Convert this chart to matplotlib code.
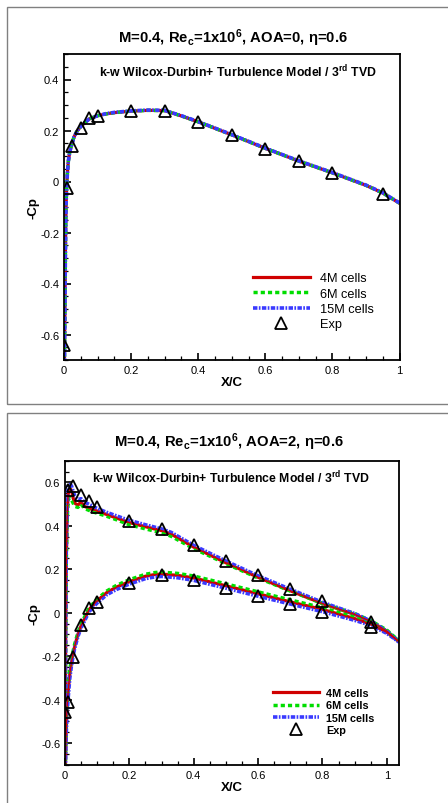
import matplotlib
matplotlib.use("Agg")
import matplotlib.pyplot as plt
from matplotlib.ticker import MultipleLocator, FuncFormatter
from matplotlib.patches import Rectangle

plt.rcParams['font.family'] = ['Liberation Sans', 'DejaVu Sans']
plt.rcParams['lines.scale_dashes'] = False
plt.rcParams['mathtext.fontset'] = 'custom'
plt.rcParams['mathtext.rm'] = 'Liberation Sans'
plt.rcParams['mathtext.bf'] = 'Liberation Sans:bold'
plt.rcParams['mathtext.it'] = 'Liberation Sans:italic'

# ---------------- data: AOA = 0 ----------------
x_cfd0 = [0.0, 0.001, 0.002, 0.003, 0.004, 0.005, 0.006, 0.008, 0.010, 0.013, 0.017,
          0.022, 0.03, 0.04, 0.05, 0.06, 0.075, 0.1, 0.125, 0.15, 0.2, 0.25, 0.3,
          0.35, 0.4, 0.5, 0.6, 0.7, 0.8, 0.9, 0.95, 1.0]
cp0_4M = [-1.0, -0.75, -0.6, -0.45, -0.3, -0.18, -0.1, -0.02, 0.03, 0.08, 0.115,
          0.14, 0.175, 0.2, 0.215, 0.228, 0.245, 0.258, 0.265, 0.27, 0.276, 0.279, 0.278,
          0.257, 0.234, 0.183, 0.130, 0.080, 0.034, -0.015, -0.045, -0.085]
cp0_6M = [-1.0, -0.75, -0.6, -0.45, -0.3, -0.18, -0.1, -0.02, 0.03, 0.08, 0.116,
          0.141, 0.176, 0.201, 0.216, 0.229, 0.246, 0.258, 0.265, 0.27, 0.276, 0.279, 0.278,
          0.257, 0.234, 0.183, 0.130, 0.080, 0.034, -0.015, -0.045, -0.085]
cp0_15M = [-1.0, -0.76, -0.61, -0.46, -0.31, -0.19, -0.1, -0.02, 0.03, 0.08, 0.115,
           0.14, 0.175, 0.2, 0.215, 0.228, 0.245, 0.258, 0.266, 0.271, 0.277, 0.28, 0.279,
           0.258, 0.235, 0.184, 0.131, 0.081, 0.035, -0.014, -0.044, -0.084]
x_exp0 = [0.0, 0.01, 0.025, 0.05, 0.075, 0.1, 0.2, 0.3, 0.4, 0.5, 0.6, 0.7, 0.8, 0.95]
cp_exp0 = [-0.64, -0.025, 0.14, 0.21, 0.25, 0.258, 0.276, 0.275, 0.233, 0.181,
           0.128, 0.079, 0.034, -0.05]

# ---------------- data: AOA = 2 ----------------
x_up2 = [0.0, 0.001, 0.002, 0.004, 0.007, 0.01, 0.015, 0.02, 0.025, 0.03, 0.04, 0.05,
         0.06, 0.08, 0.1, 0.13, 0.16, 0.2, 0.25, 0.3, 0.33, 0.4, 0.5, 0.6, 0.7, 0.8,
         0.9, 0.95, 1.0, 1.038]
cp_up2_4M = [-0.9, -0.6, -0.15, 0.25, 0.46, 0.55, 0.57, 0.565, 0.53, 0.505, 0.495,
             0.51, 0.49, 0.478, 0.468, 0.452, 0.436, 0.415, 0.396, 0.378, 0.362, 0.302,
             0.23, 0.163, 0.101, 0.042, -0.008, -0.04, -0.085, -0.133]
cp_up2_6M = [-0.9, -0.6, -0.15, 0.24, 0.44, 0.52, 0.53, 0.52, 0.505, 0.49, 0.485,
             0.5, 0.48, 0.468, 0.458, 0.444, 0.428, 0.405, 0.386, 0.368, 0.352, 0.295,
             0.226, 0.16, 0.1, 0.043, -0.004, -0.036, -0.08, -0.13]
cp_up2_15M = [-0.9, -0.55, -0.1, 0.3, 0.5, 0.585, 0.59, 0.585, 0.56, 0.54, 0.52,
              0.525, 0.51, 0.495, 0.48, 0.462, 0.446, 0.425, 0.405, 0.386, 0.37, 0.31,
              0.238, 0.17, 0.108, 0.048, -0.004, -0.038, -0.085, -0.135]

x_lo2 = [0.0, 0.001, 0.002, 0.004, 0.007, 0.01, 0.015, 0.02, 0.025, 0.03, 0.04, 0.05,
         0.06, 0.075, 0.1, 0.13, 0.16, 0.2, 0.25, 0.28, 0.3, 0.35, 0.4, 0.5, 0.6, 0.7,
         0.8, 0.9, 0.95, 1.0, 1.038]
cp_lo2_4M = [-0.9, -0.75, -0.64, -0.52, -0.42, -0.36, -0.28, -0.23, -0.19, -0.155,
             -0.1, -0.06, -0.03, 0.015, 0.055, 0.093, 0.118, 0.143, 0.168, 0.176, 0.178,
             0.172, 0.16, 0.124, 0.087, 0.05, 0.015, -0.027, -0.052, -0.09, -0.133]
cp_lo2_6M = [-0.9, -0.74, -0.62, -0.5, -0.4, -0.34, -0.26, -0.215, -0.178, -0.145,
             -0.092, -0.052, -0.022, 0.022, 0.063, 0.1, 0.126, 0.152, 0.177, 0.185, 0.187,
             0.181, 0.169, 0.133, 0.096, 0.059, 0.023, -0.02, -0.046, -0.086, -0.13]
cp_lo2_15M = [-0.9, -0.76, -0.66, -0.55, -0.45, -0.39, -0.3, -0.245, -0.2, -0.165,
              -0.11, -0.07, -0.04, 0.005, 0.045, 0.083, 0.107, 0.132, 0.157, 0.165, 0.167,
              0.161, 0.149, 0.113, 0.076, 0.04, 0.005, -0.035, -0.058, -0.095, -0.135]

x_exp2_up = [0.008, 0.025, 0.05, 0.075, 0.1, 0.2, 0.3, 0.4, 0.5, 0.6, 0.7, 0.8, 0.95]
cp_exp2_up = [0.566, 0.582, 0.543, 0.515, 0.485, 0.422, 0.384, 0.313, 0.24, 0.174,
              0.109, 0.053, -0.043]
x_exp2_lo = [0.0, 0.008, 0.025, 0.05, 0.075, 0.1, 0.2, 0.3, 0.4, 0.5, 0.6, 0.7, 0.8, 0.95]
cp_exp2_lo = [-0.459, -0.413, -0.202, -0.058, 0.02, 0.049, 0.138, 0.173, 0.15, 0.115,
              0.077, 0.041, 0.003, -0.064]

labels = ['4M cells', '6M cells', '15M cells', 'Exp']

# ---------------- styles ----------------
W, H = 448, 804
fig = plt.figure(figsize=(W / 100, H / 100), dpi=100)

red = dict(color='#d00000', lw=2.3, ls='-')
green = dict(color='#00dd00', lw=2.5, ls=(0, (3.0, 2.2)))
blue = dict(color='#3a3aff', lw=2.6, ls=(0, (3.2, 1.0, 1.2, 1.0)))
expst = dict(ls='none', marker='^', ms=8.8, mfc='none', mec='black', mew=1.3)


def fmt(v, pos):
    v = round(v, 6)
    if v == 0:
        return '0'
    return ('%g' % v)


def style_axes(ax, xmax, ymin, ymax):
    ax.set_xlim(0, xmax)
    ax.set_ylim(ymin, ymax)
    ax.xaxis.set_major_locator(MultipleLocator(0.2))
    ax.xaxis.set_minor_locator(MultipleLocator(0.05))
    ax.yaxis.set_major_locator(MultipleLocator(0.2))
    ax.yaxis.set_minor_locator(MultipleLocator(0.05))
    ax.xaxis.set_major_formatter(FuncFormatter(fmt))
    ax.yaxis.set_major_formatter(FuncFormatter(fmt))
    ax.tick_params(which='major', direction='in', length=5, width=1.2,
                   labelsize=8, pad=3.5, top=False, right=False)
    ax.tick_params(which='minor', direction='in', length=2.8, width=0.9,
                   top=False, right=False)
    for s in ax.spines.values():
        s.set_linewidth(1.3)


def px(x, y):
    return (x / W, 1 - y / H)


subtitle = r'k-w Wilcox-Durbin+ Turbulence Model / 3$^{\mathbf{rd}}$ TVD'

# panel frames
fig.add_artist(Rectangle(px(7, 404.5), (470 - 7) / W, (404.5 - 8) / H,
                         transform=fig.transFigure, fill=False, ec='#808080', lw=1.0))
fig.add_artist(Rectangle(px(7, 830), (470 - 7) / W, (830 - 414) / H,
                         transform=fig.transFigure, fill=False, ec='#808080', lw=1.0))

# ---------------- top panel ----------------
ax1 = fig.add_axes([64 / W, 1 - 361 / H, (399.5 - 64) / W, (361 - 55) / H])
ax1.plot(x_cfd0, cp0_4M, label=labels[0], **red)
ax1.plot(x_cfd0, cp0_6M, label=labels[1], **green)
ax1.plot(x_cfd0, cp0_15M, label=labels[2], **blue)
ax1.plot(x_exp0, cp_exp0, label=labels[3], zorder=5, **expst)
style_axes(ax1, 1.0, -0.7, 0.5)
ax1.set_xlabel('X/C', fontsize=9.5, fontweight='bold', labelpad=1)
ax1.set_ylabel('-Cp', fontsize=9.5, fontweight='bold', labelpad=0.5)
ax1.text(0.519, 0.945, subtitle, transform=ax1.transAxes, ha='center', va='center',
         fontsize=8.8, fontweight='bold')
ax1.legend(loc='upper left', bbox_to_anchor=px(253, 273.5), bbox_transform=fig.transFigure,
           frameon=False, fontsize=9.2, handlelength=4.45, handletextpad=0.78,
           labelspacing=0.26, borderpad=0, borderaxespad=0, numpoints=1)
fig.text(233 / W, 1 - 38 / H, 'M=0.4, Re$_{\\mathbf{c}}$=1x10$^{\\mathbf{6}}$, AOA=0, \u03b7=0.6',
         ha='center', va='center', fontsize=10.7, fontweight='bold')

# ---------------- bottom panel ----------------
ax2 = fig.add_axes([65 / W, 1 - 765.7 / H, (399 - 65) / W, (765.7 - 461.7) / H])
ax2.plot(x_up2, cp_up2_4M, label=labels[0], **red)
ax2.plot(x_lo2, cp_lo2_4M, **red)
ax2.plot(x_up2, cp_up2_6M, label=labels[1], **green)
ax2.plot(x_lo2, cp_lo2_6M, **green)
ax2.plot(x_up2, cp_up2_15M, label=labels[2], **blue)
ax2.plot(x_lo2, cp_lo2_15M, **blue)
ax2.plot(x_up2, cp_up2_4M, lw=1.0, color='#d00000')
ax2.plot(x_lo2, cp_lo2_4M, lw=1.0, color='#d00000')
ax2.plot(x_exp2_up, cp_exp2_up, label=labels[3], zorder=5, **expst)
ax2.plot(x_exp2_lo, cp_exp2_lo, zorder=5, **expst)
style_axes(ax2, 1.038, -0.7, 0.7)
ax2.set_xlabel('X/C', fontsize=9.5, fontweight='bold', labelpad=1)
ax2.set_ylabel('-Cp', fontsize=9.5, fontweight='bold', labelpad=0.5)
ax2.text(0.497, 0.948, subtitle, transform=ax2.transAxes, ha='center', va='center',
         fontsize=8.8, fontweight='bold')
ax2.legend(loc='upper left', bbox_to_anchor=px(272.7, 689.0), bbox_transform=fig.transFigure,
           frameon=False, prop=dict(size=7.8, weight='bold'), handlelength=4.25,
           handletextpad=0.7, labelspacing=0.22, borderpad=0, borderaxespad=0, numpoints=1)
fig.text(229 / W, 1 - 442.5 / H, 'M=0.4, Re$_{\\mathbf{c}}$=1x10$^{\\mathbf{6}}$, AOA=2, \u03b7=0.6',
         ha='center', va='center', fontsize=10.7, fontweight='bold')

fig.savefig('out.png', dpi=100)
